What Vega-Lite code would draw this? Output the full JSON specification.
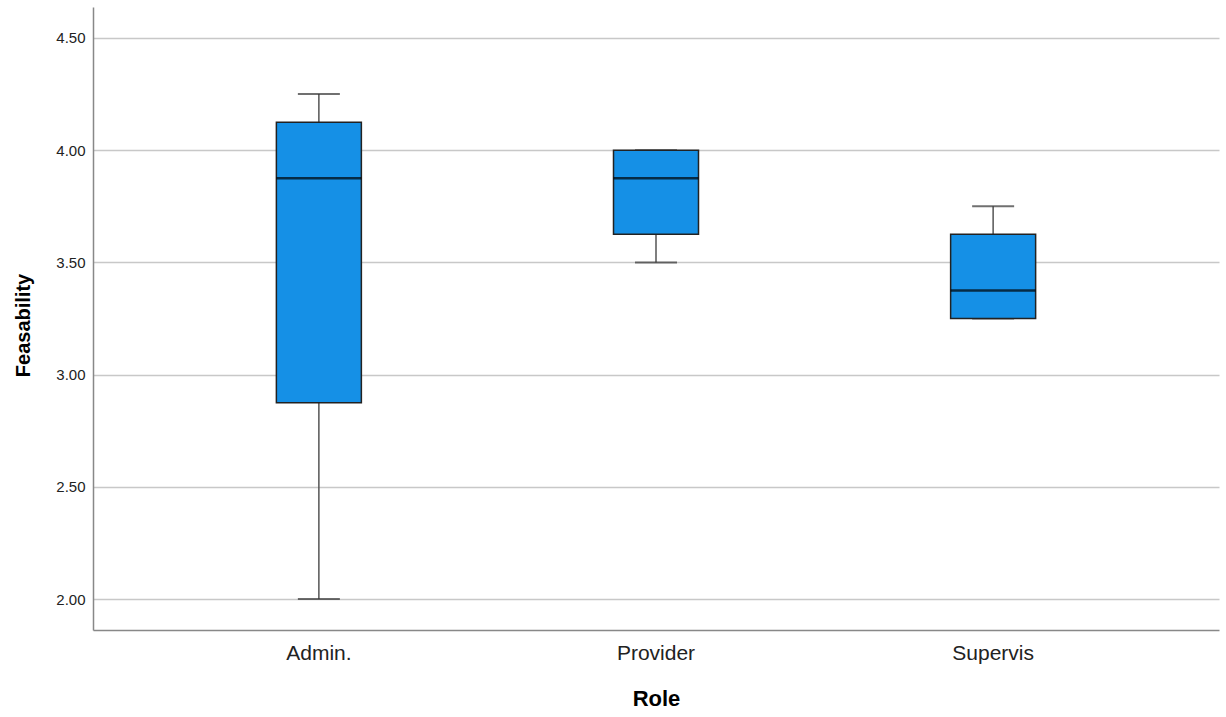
{
  "$schema": "https://vega.github.io/schema/vega-lite/v6.json",
  "autosize": {"type": "none"},
  "padding": {"left": 93, "top": 7, "right": 7, "bottom": 87},
  "width": 1126,
  "height": 623,
  "background": "white",
  "config": {
    "font": "Liberation Sans",
    "view": {"stroke": null}
  },
  "data": {
    "values": [
      {"role": "Admin.", "min": 2.0, "q1": 2.875, "median": 3.875, "q3": 4.125, "max": 4.25},
      {"role": "Provider", "min": 3.5, "q1": 3.625, "median": 3.875, "q3": 4.0, "max": 4.0},
      {"role": "Supervis", "min": 3.25, "q1": 3.25, "median": 3.375, "q3": 3.625, "max": 3.75}
    ]
  },
  "encoding": {
    "x": {
      "field": "role",
      "type": "nominal",
      "sort": ["Admin.", "Provider", "Supervis"],
      "scale": {"paddingInner": 0, "paddingOuter": 0.17},
      "axis": {
        "title": "Role",
        "titleFontSize": 22,
        "titleFontWeight": "bold",
        "titleColor": "#000",
        "titlePadding": 25,
        "labelFontSize": 21,
        "labelColor": "#222",
        "labelAngle": 0,
        "labelPadding": 12,
        "ticks": false,
        "domainColor": "#888",
        "domainWidth": 1.5,
        "grid": false
      }
    }
  },
  "layer": [
    {
      "mark": {"type": "rule", "color": "#555", "strokeWidth": 1.5},
      "encoding": {
        "y": {
          "field": "min",
          "type": "quantitative",
          "scale": {"domain": [1.862, 4.638], "nice": false, "zero": false},
          "axis": {
            "title": "Feasability",
            "titleFontSize": 20,
            "titleFontWeight": "bold",
            "titleColor": "#000",
            "titlePadding": 22,
            "titleY": 318,
            "values": [2.0, 2.5, 3.0, 3.5, 4.0, 4.5],
            "format": ".2f",
            "labelFontSize": 15,
            "labelColor": "#222",
            "labelPadding": 8,
            "ticks": false,
            "domainColor": "#888",
            "domainWidth": 1.5,
            "grid": true,
            "gridColor": "#c8c8c8",
            "gridWidth": 1.5
          }
        },
        "y2": {"field": "q1"}
      }
    },
    {
      "mark": {"type": "rule", "color": "#555", "strokeWidth": 1.5},
      "encoding": {
        "y": {"field": "q3", "type": "quantitative"},
        "y2": {"field": "max"}
      }
    },
    {
      "mark": {"type": "tick", "color": "#333", "thickness": 2, "size": 42},
      "encoding": {"y": {"field": "min", "type": "quantitative"}}
    },
    {
      "mark": {"type": "tick", "color": "#333", "thickness": 2, "size": 42},
      "encoding": {"y": {"field": "max", "type": "quantitative"}}
    },
    {
      "mark": {"type": "bar", "size": 85, "fill": "#1590e6", "stroke": "#222", "strokeWidth": 1.5},
      "encoding": {
        "y": {"field": "q1", "type": "quantitative"},
        "y2": {"field": "q3"}
      }
    },
    {
      "mark": {"type": "tick", "color": "#000", "thickness": 2.5, "size": 85},
      "encoding": {"y": {"field": "median", "type": "quantitative"}}
    }
  ]
}
